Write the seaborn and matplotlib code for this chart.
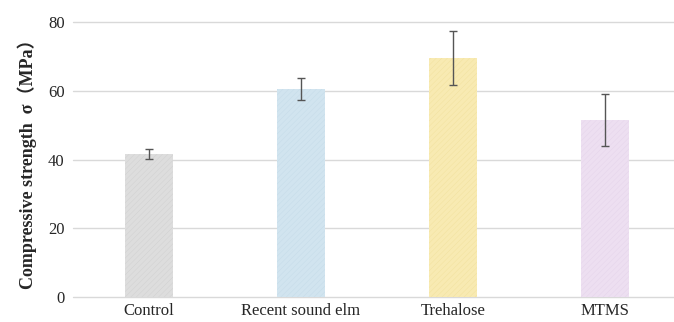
import matplotlib
matplotlib.use("Agg")
import matplotlib.pyplot as plt
import seaborn as sns
import pandas as pd
import numpy as np

categorias = ["Control", "Recent sound elm", "Trehalose", "MTMS"]
resistencia = [41.6, 60.5, 69.6, 51.5]
erro = [1.5, 3.3, 7.8, 7.6]
cores = ["#dddddd", "#d1e4ef", "#f8eab2", "#eddff1"]
hatch_cores = ["#cfcfcf", "#c4dae8", "#f1e09c", "#e4d3ea"]
y_ticks = [0, 20, 40, 60, 80]

df = pd.DataFrame({"grupo": categorias, "valor": resistencia})

sns.set_style("white")
plt.rcParams["font.family"] = ["Liberation Serif", "Noto Sans CJK SC"]
plt.rcParams["hatch.linewidth"] = 0.3

fig = plt.figure(figsize=(6.74, 3.22), dpi=100)
ax = fig.add_axes([73 / 674, 25 / 322, (674 - 73) / 674, (297 - 22) / 322])

sns.barplot(data=df, x="grupo", y="valor", hue="grupo", palette=cores,
            saturation=1, width=0.316, legend=False, ax=ax, zorder=3)
for barra, hc in zip(ax.patches, hatch_cores):
    barra.set_hatch("//////")
    barra.set_edgecolor(hc)
    barra.set_linewidth(0)

ax.errorbar(range(len(categorias)), resistencia, yerr=erro, fmt="none",
            ecolor="#555555", elinewidth=1, capsize=3, capthick=1, zorder=4)

ax.set_ylim(0, 80)
ax.set_xlim(-0.5, 3.454)
ax.set_yticks(y_ticks)
ax.yaxis.grid(True, color="#d9d9d9", linewidth=1, zorder=0)
for gl in ax.get_ygridlines():
    gl.set_clip_on(False)
ax.set_axisbelow(True)
for s in ax.spines.values():
    s.set_visible(False)
ax.tick_params(axis="both", length=0, labelsize=12, pad=6)
ax.tick_params(axis="x", pad=4)
ax.set_xlabel("")
ax.set_ylabel("Compressive strength  σ（MPa）", fontsize=13, fontweight="bold",
              labelpad=8)

fig.savefig("out.png", dpi=100)
